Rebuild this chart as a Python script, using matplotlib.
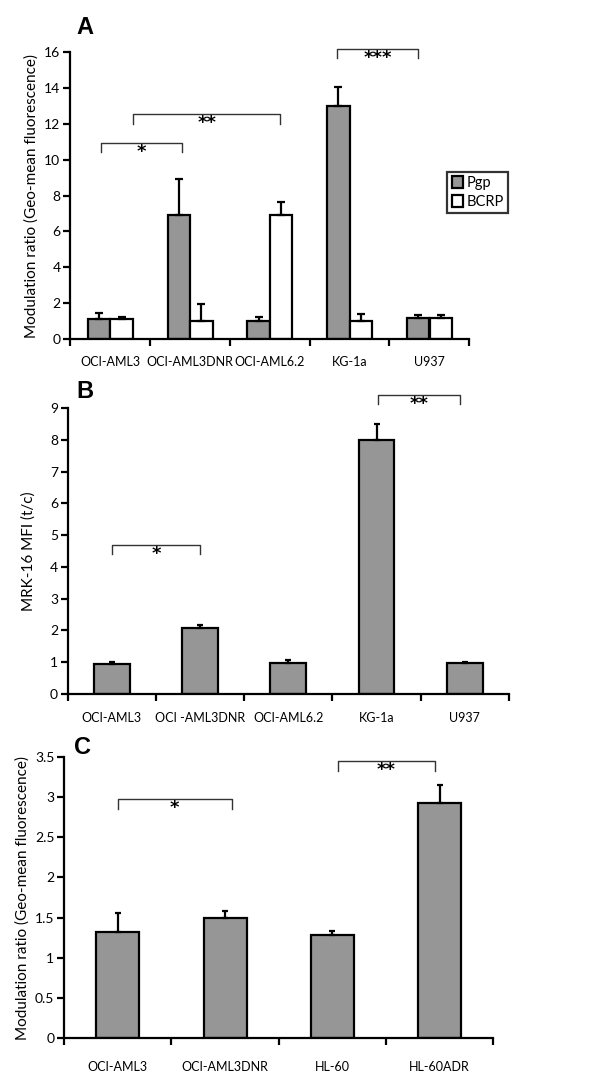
import matplotlib
matplotlib.use("Agg")
import matplotlib.pyplot as plt
import numpy as np

plt.rcParams['font.family'] = ['Lato', 'DejaVu Sans']

# panel A
cells_a = ["OCI-AML3", "OCI-AML3DNR", "OCI-AML6.2", "KG-1a", "U937"]
pgp_a = [1.10, 6.90, 1.00, 13.0, 1.19]
pgp_err_a = [0.33, 2.02, 0.23, 1.05, 0.17]
bcrp_a = [1.10, 1.00, 6.90, 1.00, 1.15]
bcrp_err_a = [0.14, 0.95, 0.72, 0.37, 0.18]

# panel B
cells_b = ["OCI-AML3", "OCI -AML3DNR", "OCI-AML6.2", "KG-1a", "U937"]
mfi_b = [0.94, 2.08, 0.99, 7.98, 0.97]
mfi_err_b = [0.08, 0.08, 0.07, 0.52, 0.04]

# panel C
cells_c = ["OCI-AML3", "OCI-AML3DNR", "HL-60", "HL-60ADR"]
ratio_c = [1.315, 1.494, 1.278, 2.93]
ratio_err_c = [0.24, 0.09, 0.055, 0.22]

# significance brackets: (x1, x2, y_top, leg, label)
sig_a = [(-0.12, 0.90, 10.95, 0.55, "*"), (0.29, 2.13, 12.53, 0.53, "**"),
         (2.84, 3.86, 16.17, 0.50, "***")]
sig_b = [(0.0, 1.0, 4.69, 0.30, "*"), (3.02, 3.95, 9.40, 0.29, "**")]
sig_c = [(0.0, 1.06, 2.98, 0.12, "*"), (2.05, 2.96, 3.46, 0.13, "**")]

GREY = "#969696"
LW = 1.6


def style(ax, n, ymax, step, pad):
    ax.set_xlim(-0.5, n - 0.5)
    ax.set_ylim(0, ymax)
    ax.set_yticks(np.arange(0, ymax + step / 2, step))
    ax.set_yticklabels(["%g" % v for v in np.arange(0, ymax + step / 2, step)])
    for s in ["top", "right"]:
        ax.spines[s].set_visible(False)
    for s in ["left", "bottom"]:
        ax.spines[s].set_linewidth(LW)
    ax.set_xticks(np.arange(-0.5, n, 1.0), minor=True)
    ax.tick_params(axis="x", which="major", length=0, pad=pad, labelsize=9)
    ax.tick_params(axis="x", which="minor", length=5, width=LW, direction="out")
    ax.tick_params(axis="y", length=5, width=LW, labelsize=10, pad=2)


def brackets(ax, sigs):
    for x1, x2, y, leg, lab in sigs:
        ax.plot([x1, x1, x2, x2], [y - leg, y, y, y - leg], color="#333333",
                lw=1.0, clip_on=False)
        ax.text((x1 + x2) / 2, y, lab, ha="center", va="top", fontsize=13,
                fontweight="bold", family="DejaVu Sans", clip_on=False)


fig = plt.figure(figsize=(6, 10.77), dpi=100)

# A
ax = fig.add_axes([0.117, 0.6852, 0.665, 0.2665])
x = np.arange(len(cells_a))
w = 0.28
ax.bar(x - 0.14, pgp_a, w, color=GREY, edgecolor="black", lw=LW, label="Pgp",
       yerr=[np.zeros(5), pgp_err_a], error_kw=dict(lw=LW, capsize=3, capthick=LW))
ax.bar(x + 0.145, bcrp_a, w, color="white", edgecolor="black", lw=LW, label="BCRP",
       yerr=[np.zeros(5), bcrp_err_a], error_kw=dict(lw=LW, capsize=3, capthick=LW))
ax.set_xticks(x)
ax.set_xticklabels(cells_a)
style(ax, 5, 16, 2, 12)
ax.set_ylabel("Modulation ratio (Geo-mean fluorescence)", fontsize=11, labelpad=4)
brackets(ax, sig_a)
leg = ax.legend(loc="upper left", bbox_to_anchor=(0.945, 0.582), borderaxespad=0,
                fancybox=False, edgecolor="black", fontsize=10.5, handlelength=0.8,
                handleheight=0.9, handletextpad=0.2, borderpad=0.3, labelspacing=0.3)
leg.get_frame().set_linewidth(LW)
fig.text(0.128, 0.968, "A", fontsize=17, fontweight="bold", family="Liberation Sans")

# B
ax = fig.add_axes([0.113, 0.3556, 0.735, 0.2656])
x = np.arange(len(cells_b))
ax.bar(x, mfi_b, 0.405, color=GREY, edgecolor="black", lw=LW,
       yerr=[np.zeros(5), mfi_err_b], error_kw=dict(lw=LW, capsize=2, capthick=LW))
ax.set_xticks(x)
ax.set_xticklabels(cells_b)
style(ax, 5, 9, 1, 13)
ax.set_ylabel("MRK-16 MFI (t/c)", fontsize=11, labelpad=10)
brackets(ax, sig_b)
fig.text(0.128, 0.630, "B", fontsize=17, fontweight="bold", family="Liberation Sans")

# C
ax = fig.add_axes([0.107, 0.0365, 0.715, 0.2603])
x = np.arange(len(cells_c))
ax.bar(x, ratio_c, 0.40, color=GREY, edgecolor="black", lw=LW,
       yerr=[np.zeros(4), ratio_err_c], error_kw=dict(lw=LW, capsize=2, capthick=LW))
ax.set_xticks(x)
ax.set_xticklabels(cells_c)
style(ax, 4, 3.5, 0.5, 17)
ax.set_ylabel("Modulation ratio (Geo-mean fluorescence)", fontsize=11, labelpad=4)
brackets(ax, sig_c)
fig.text(0.124, 0.300, "C", fontsize=17, fontweight="bold", family="Liberation Sans")

fig.savefig("out.png", dpi=100)
